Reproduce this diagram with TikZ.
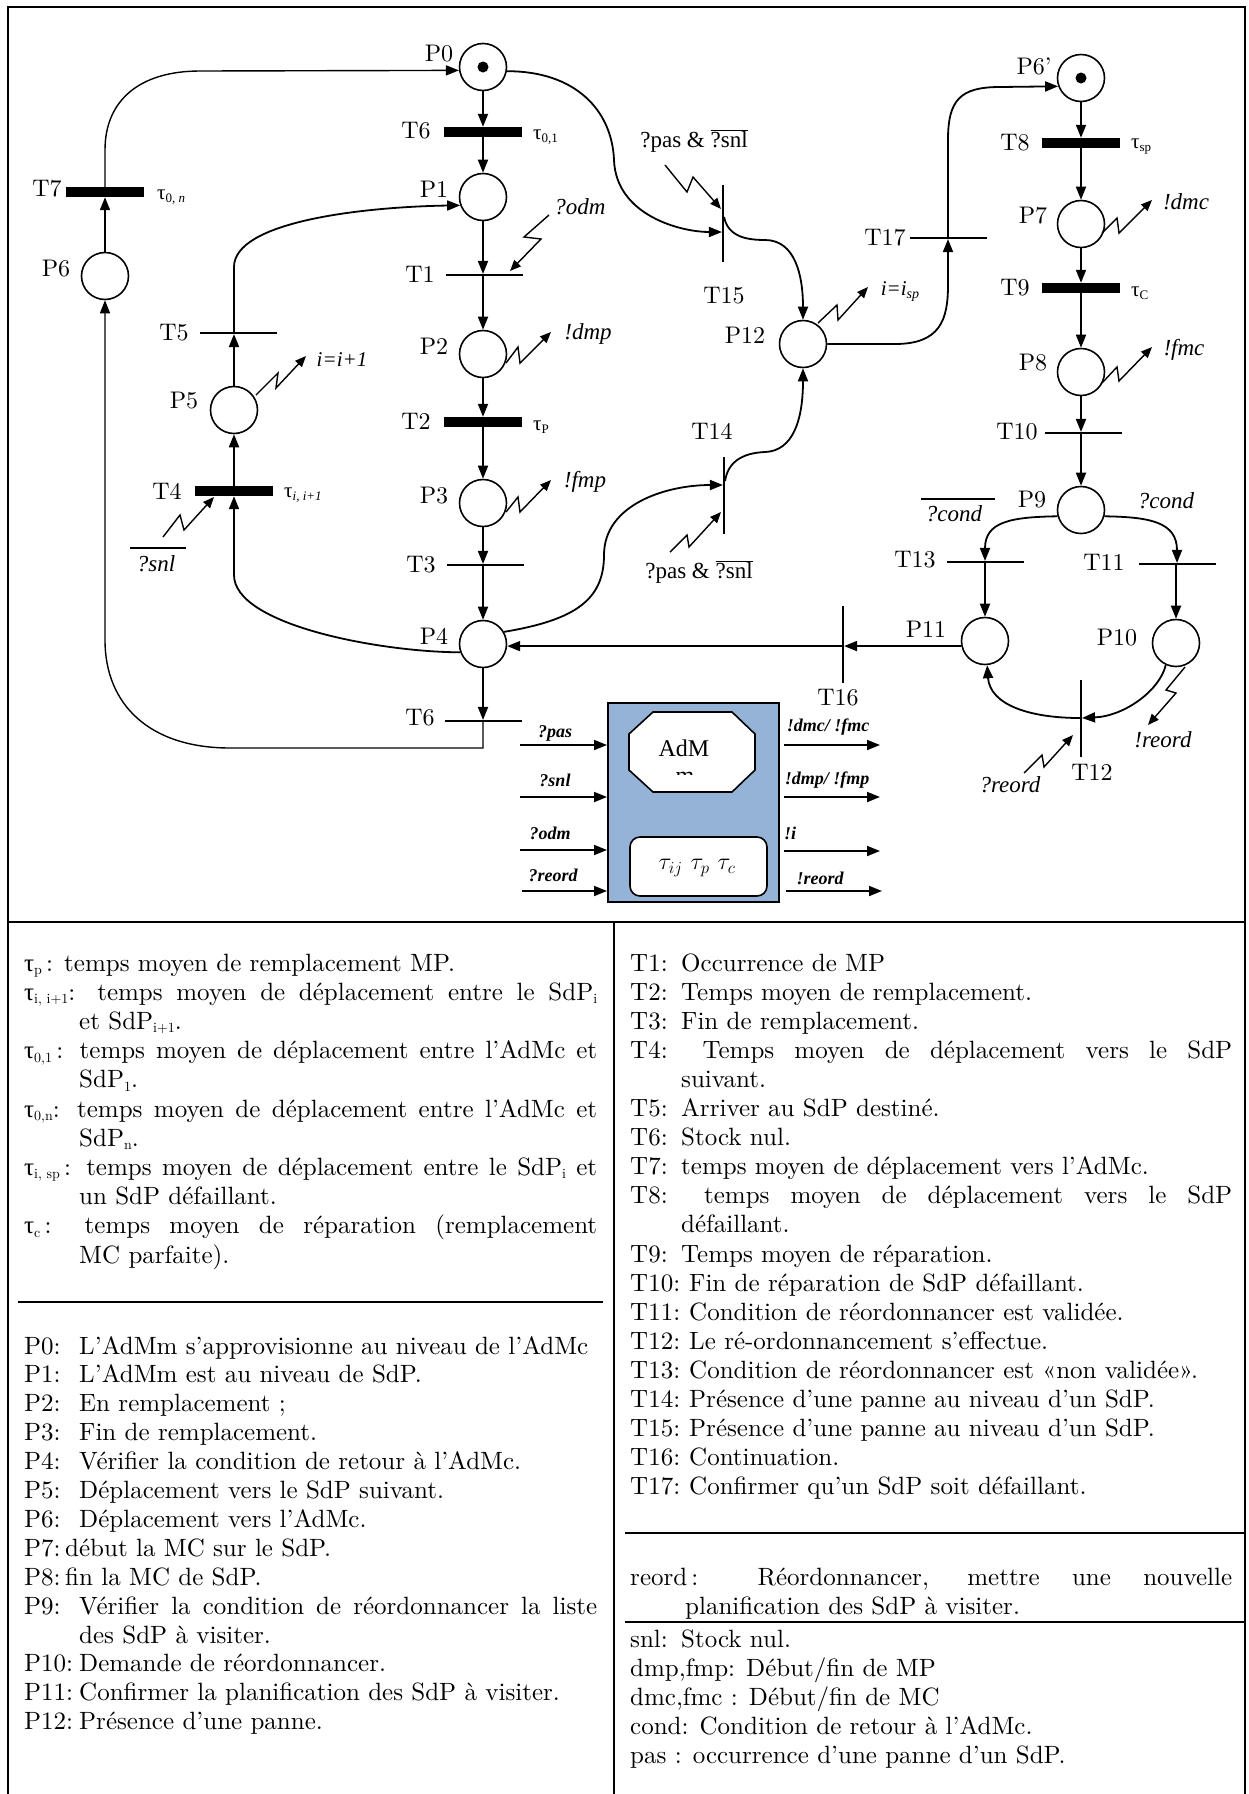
\documentclass[tikz,border=0pt]{standalone}
\usepackage{fix-cm}
\usepackage{fontspec}
\setmainfont{lmroman10-regular.otf}[BoldFont=lmroman10-bold.otf,ItalicFont=lmroman10-italic.otf,BoldItalicFont=lmroman10-bolditalic.otf]
\newfontfamily\tnr{Liberation Serif}
\usetikzlibrary{arrows.meta,calc}
\definecolor{admblue}{RGB}{149,179,215}
\newcommand\sbx[1]{\raisebox{-3.5pt}{\fontsize{14}{16}\selectfont #1}}
\newcommand\tleg[1]{{\tnr τ}\sbx{#1}}
\newcommand\tlab[1]{{\tnr\fontsize{21}{24}\selectfont τ}\raisebox{-3pt}{\tnr\fontsize{13}{15}\selectfont #1}}
\newcommand\lab[2]{\makebox[#1][l]{#2}}
\newcommand\jst[2]{\makebox[#1][s]{#2}}
\begin{document}
\begin{tikzpicture}[x=1pt,y=-1pt,
 plc/.style={circle,draw,line width=1.6pt,minimum size=47pt,inner sep=0pt},
 tok/.style={plc,path picture={\fill (path picture bounding box.center) circle[radius=5.5pt];}},
 tbar/.style={fill=black,minimum width=78pt,minimum height=10pt,inner sep=0pt},
 thh/.style={fill=black,minimum width=77pt,minimum height=1.7pt,inner sep=0pt},
 thv/.style={fill=black,minimum width=1.7pt,minimum height=77pt,inner sep=0pt},
 pnarc/.style={line width=1.8pt,-{Triangle[length=13pt,width=10pt]}},
 bolt/.style={line width=1.4pt,-{Triangle[length=11pt,width=9pt]}},
 lbl/.style={inner sep=0pt,font=\fontsize{24}{28}\selectfont},
 ilbl/.style={inner sep=0pt,font=\tnr\itshape\fontsize{23}{27}\selectfont},
 bil/.style={inner sep=0pt,font=\tnr\bfseries\itshape\fontsize{18}{21}\selectfont},
 leg/.style={anchor=base west,inner sep=0pt,font=\fontsize{25}{29}\selectfont},
 frm/.style={line width=2.4pt},
 sep/.style={line width=2pt},
]
\useasboundingbox (0,0) rectangle (1248,1794);
\fill[white] (0,0) rectangle (1248,1794);

% ---------- frame ----------
\draw[frm] (8,1800) -- (8,7) -- (1245,7) -- (1245,1800);
\draw[frm] (8,922) -- (1245,922);
\draw[sep] (614,922) -- (614,1800);
\draw[sep] (18,1302) -- (603,1302);
\draw[sep] (625,1533) -- (1245,1533);
\draw[sep] (625,1622) -- (1245,1622);

% ---------- places ----------
\node[tok] (P0)  at (483,67) {};
\node[plc] (P1)  at (483,197) {};
\node[plc] (P2)  at (483,354) {};
\node[plc] (P3)  at (483,503) {};
\node[plc] (P4)  at (483,644) {};
\node[plc] (P5)  at (234,410) {};
\node[plc] (P6)  at (105,276) {};
\node[plc] (P12) at (803,344) {};
\node[tok] (P6p) at (1081,78) {};
\node[plc] (P7)  at (1081,224) {};
\node[plc] (P8)  at (1081,372) {};
\node[plc] (P9)  at (1081,510) {};
\node[plc] (P10) at (1176,643) {};
\node[plc] (P11) at (985,641) {};

% ---------- transitions ----------
\node[tbar] (T6a) at (483,132) {};
\node[tbar] (T7)  at (105,192) {};
\node[tbar] (T2)  at (483,422) {};
\node[tbar] (T4)  at (234,491) {};
\node[tbar] (T8)  at (1081,143) {};
\node[tbar] (T9)  at (1081,288) {};
\node[thh] (T1)  at (484,275) {};
\node[thh] (T3)  at (485,565) {};
\node[thh] (T5)  at (238,333) {};
\node[thh] (T6b) at (483,721) {};
\node[thh] (T17) at (948,238) {};
\node[thh] (T10) at (1083,433) {};
\node[thh] (T13) at (985,562) {};
\node[thh] (T11) at (1177,564) {};
\node[thv] (T15) at (723,223) {};
\node[thv] (T14) at (724,495) {};
\node[thv] (T16) at (843,644) {};
\node[thv] (T12) at (1081,718) {};

% ---------- straight arcs ----------
\draw[pnarc] (P0) -- (P0 |- T6a.north);
\draw[pnarc] (P0 |- T6a.south) -- (P1);
\draw[pnarc] (P1) -- (P1 |- T1.north);
\draw[pnarc] (P1 |- T1.south) -- (P2);
\draw[pnarc] (P2) -- (P2 |- T2.north);
\draw[pnarc] (P2 |- T2.south) -- (P3);
\draw[pnarc] (P3) -- (P3 |- T3.north);
\draw[pnarc] (P3 |- T3.south) -- (P4);
\draw[pnarc] (P4) -- (P4 |- T6b.north);
\draw[pnarc] (P6) -- (P6 |- T7.south);
\draw[pnarc] (P5) -- (P5 |- T5.south);
\draw[pnarc] (P5 |- T4.north) -- (P5);
\draw[pnarc] (P6p) -- (P6p |- T8.north);
\draw[pnarc] (P6p |- T8.south) -- (P7);
\draw[pnarc] (P7) -- (P7 |- T9.north);
\draw[pnarc] (P7 |- T9.south) -- (P8);
\draw[pnarc] (P8) -- (P8 |- T10.north);
\draw[pnarc] (P8 |- T10.south) -- (P9);
\draw[pnarc] (P11 |- T13.south) -- (P11);
\draw[pnarc] (P10 |- T11.south) -- (P10);
\draw[pnarc] (P11.192) -- (P11.192 -| T16.east);
\draw[pnarc] (T16.west |- P4.-5) -- (P4.-5);

% ---------- curved arcs ----------
\draw[pnarc,line width=1.4pt] (T6b.south) -- (483,748) -- (230,748) .. controls (150,748) and (105,705) .. (105,640) -- (P6);
\draw[pnarc,line width=1.4pt] (T7.north) -- (105,150) .. controls (105,100) and (140,71) .. (200,71) -- (P0.188);
\draw[pnarc] (P5 |- T5.north) -- (234,267) .. controls (234,222) and (360,207) .. (P1.200);
\draw[pnarc] (P4.200) .. controls (380,652) and (234,625) .. (234,575) -- (P5 |- T4.south);
\draw[pnarc] (P4.30) .. controls (575,620) and (604,600) .. (604,555) .. controls (604,505) and (665,485) .. ([yshift=10pt]T14.west);
\draw[pnarc] ([yshift=14pt]T14.east) .. controls (728,462) and (742,453) .. (765,452) .. controls (793,451) and (803,420) .. (P12.south);
\draw[pnarc] (P0.-10) .. controls (575,71) and (612,110) .. (614,160) .. controls (616,215) and (680,232) .. ([yshift=-9pt]T15.west);
\draw[pnarc] ([yshift=6pt]T15.east) .. controls (728,236) and (745,240) .. (765,240) .. controls (795,240) and (803,275) .. (P12.north);
\draw[pnarc] (P12.east) -- (895,344) .. controls (940,344) and (948,320) .. (948,285) -- (T17.south);
\draw[pnarc] (T17.north) -- (948,140) .. controls (948,100) and (960,87) .. (1000,87) -- (P6p.200);
\draw[pnarc] (P9.195) .. controls (1010,517) and (985,522) .. (T13.north);
\draw[pnarc] (P9.-15) .. controls (1150,517) and (1177,522) .. (T11.north);
\draw[pnarc] (P10.245) .. controls (1160,690) and (1125,716) .. (T12.east);
\draw[pnarc] (T12.west) .. controls (1030,718) and (990,705) .. (P11.-85);

% ---------- signal bolts ----------
\draw[bolt] (549,215) -- (524,237) -- (541,239) -- (510,271);
\draw[bolt] (506,363) -- (518,347) -- (520,363) -- (551,332);
\draw[bolt] (506,512) -- (518,497) -- (520,512) -- (551,480);
\draw[bolt] (256,395) -- (278,373) -- (276,388) -- (306,356);
\draw[bolt] (163,537) -- (180,515) -- (184,530) -- (214,497);
\draw[bolt] (665,165) -- (687,192) -- (693,177) -- (721,209);
\draw[bolt] (670,552) -- (687,535) -- (689,547) -- (721,512);
\draw[bolt] (818,323) -- (837,305) -- (838,320) -- (868,287);
\draw[bolt] (1102,233) -- (1117,218) -- (1119,233) -- (1152,200);
\draw[bolt] (1102,383) -- (1117,367) -- (1119,381) -- (1152,347);
\draw[bolt] (1024,773) -- (1042,755) -- (1044,767) -- (1073,735);
\draw[bolt] (1185,667) -- (1166,690) -- (1176,693) -- (1148,725);

% ---------- place / transition labels ----------
\node[lbl] (lP0) at (439,54) {P0};
\node[lbl] (lP1) at (434,189) {P1};
\node[lbl] (lP2) at (434,346) {P2};
\node[lbl] (lP3) at (434,496) {P3};
\node[lbl] (lP4) at (434,636) {P4};
\node[lbl] (lP5) at (184,401) {P5};
\node[lbl] (lP6) at (56,269) {P6};
\node[lbl] (lP12) at (745,335) {P12};
\node[lbl] (lP6p) at (1034,66) {P6’};
\node[lbl] (lP7) at (1033,216) {P7};
\node[lbl] (lP8) at (1033,363) {P8};
\node[lbl] (lP9) at (1032,500) {P9};
\node[lbl] (lP10) at (1117,638) {P10};
\node[lbl] (lP11) at (926,629) {P11};
\node[lbl] (lT6a) at (416,131) {T6};
\node[lbl] (lT7) at (47,189) {T7};
\node[lbl] (lT1) at (420,274) {T1};
\node[lbl] (lT2) at (416,421) {T2};
\node[lbl] (lT5) at (174,333) {T5};
\node[lbl] (lT4) at (167,491) {T4};
\node[lbl] (lT3) at (421,565) {T3};
\node[lbl] (lT6b) at (420,718) {T6};
\node[lbl] (lT15) at (724,296) {T15};
\node[lbl] (lT14) at (712,431) {T14};
\node[lbl] (lT16) at (838,698) {T16};
\node[lbl] (lT17) at (885,238) {T17};
\node[lbl] (lT8) at (1015,143) {T8};
\node[lbl] (lT9) at (1015,288) {T9};
\node[lbl] (lT10) at (1017,432) {T10};
\node[lbl] (lT13) at (915,560) {T13};
\node[lbl] (lT11) at (1104,562) {T11};
\node[lbl] (lT12) at (1092,772) {T12};

% ---------- timing labels ----------
\node[anchor=west,inner sep=0pt] (t01) at (533,137) {\tlab{0,1}};
\node[anchor=west,inner sep=0pt] (t0n) at (157,197) {\tlab{0, \itshape n}};
\node[anchor=west,inner sep=0pt] (tp) at (533,427) {\tlab{P}};
\node[anchor=west,inner sep=0pt] (tii) at (284,495) {\tlab{\itshape i, i+1}};
\node[anchor=west,inner sep=0pt] (tsp) at (1131,147) {\tlab{sp}};
\node[anchor=west,inner sep=0pt] (tc) at (1131,293) {\tlab{C}};

% ---------- signal labels ----------
\node[ilbl] (sodm) at (580,207) {?odm};
\node[ilbl] (sdmp) at (588,334) {!dmp};
\node[ilbl,font=\tnr\itshape\fontsize{21}{25}\selectfont] (sii) at (342,360) {i=i+1};
\node[ilbl] (sfmp) at (585,482) {!fmp};
\node[ilbl] (ssnl) at (156,564) {?snl};
\draw[line width=1.4pt] (130,548) -- (186,548);
\node[ilbl,font=\tnr\itshape\fontsize{21}{25}\selectfont] (sisp) at (900,292) {i=i\raisebox{-3pt}{\fontsize{14}{16}\selectfont sp}};
\node[ilbl] (sdmc) at (1186,202) {!dmc};
\node[ilbl] (sfmc) at (1184,350) {!fmc};
\node[inner sep=0pt,font=\tnr\fontsize{23}{27}\selectfont] (spas1) at (694,141) {?pas \& $\overline{\hbox{?snl}}$};
\node[inner sep=0pt,font=\tnr\fontsize{23}{27}\selectfont] (spas2) at (699,572) {?pas \& $\overline{\hbox{?snl}}$};
\node[ilbl] (scond1) at (954,514) {?cond};
\draw[line width=1.4pt] (921,499) -- (995,499);
\node[ilbl] (scond2) at (1166,501) {?cond};
\node[ilbl] (sreo1) at (1163,740) {!reord};
\node[ilbl] (sreo2) at (1010,785) {?reord};

% ---------- AdM block ----------
\node[draw,line width=2pt,fill=admblue,minimum width=171pt,minimum height=199pt,inner sep=0pt] (adm) at (693.5,802.5) {};
\draw[line width=1.6pt,fill=white] (653,712) -- (732,712) -- (755,734) -- (755,770) -- (732,792) -- (653,792) -- (629,770) -- (629,734) -- cycle;
\node[inner sep=0pt,font=\tnr\fontsize{24}{28}\selectfont] (admt) at (684,748) {AdM};
\begin{scope}
\clip (655,768) rectangle (715,774.5);
\node[anchor=base,inner sep=0pt,font=\tnr\fontsize{24}{28}\selectfont] (admm) at (685,783) {m};
\end{scope}
\draw[line width=1.6pt,fill=white,rounded corners=10pt] (630,837) rectangle (767,896);
\node[inner sep=0pt,font=\fontsize{24}{28}\selectfont] (taus) at (697,868) {$\tau_{ij}\ \tau_p\ \tau_c$};

\coordinate (i1) at (520,745);
\coordinate (i2) at (520,797);
\coordinate (i3) at (520,850);
\coordinate (i4) at (522,891);
\draw[pnarc] (i1) -- (i1 -| adm.west);
\draw[pnarc] (i2) -- (i2 -| adm.west);
\draw[pnarc] (i3) -- (i3 -| adm.west);
\draw[pnarc] (i4) -- (i4 -| adm.west);
\node[bil] at (555,733) {?pas};
\node[bil] at (555,780) {?snl};
\node[bil] at (550,833) {?odm};
\node[bil] at (553,875) {?reord};
\coordinate (o1) at (880,745);
\coordinate (o2) at (880,797);
\coordinate (o3) at (880,851);
\coordinate (o4) at (882,891);
\draw[pnarc] (adm.east |- o1) ++(4pt,0) -- (o1);
\draw[pnarc] (adm.east |- o2) ++(4pt,0) -- (o2);
\draw[pnarc] (adm.east |- o3) ++(4pt,0) -- (o3);
\draw[pnarc] (adm.east |- o4) ++(6pt,0) -- (o4);
\node[bil] at (828,727) {!dmc/ !fmc};
\node[bil] at (827,780) {!dmp/ !fmp};
\node[bil] at (790,833) {!i};
\node[bil] at (820,878) {!reord};

% ---------- legend: left column ----------
\node[leg] at (24,971) {\tleg{p}\,: temps moyen de remplacement MP.};
\node[leg] at (24,1000.2) {\jst{573pt}{\tleg{i, i+1}: temps moyen de déplacement entre le SdP\sbx{i}}};
\node[leg] at (79,1029.4) {et SdP\sbx{i+1}.};
\node[leg] at (24,1058.6) {\jst{573pt}{\tleg{0,1}\,: temps moyen de déplacement entre l’AdMc et}};
\node[leg] at (79,1087.8) {SdP\sbx{1}.};
\node[leg] at (24,1117) {\jst{573pt}{\tleg{0,n}: temps moyen de déplacement entre l’AdMc et}};
\node[leg] at (79,1146.2) {SdP\sbx{n}.};
\node[leg] at (24,1175.4) {\jst{573pt}{\tleg{i, sp}\,: temps moyen de déplacement entre le SdP\sbx{i} et}};
\node[leg] at (79,1204.6) {un SdP défaillant.};
\node[leg] at (24,1233.8) {\jst{573pt}{\tleg{c}\,: temps moyen de réparation (remplacement}};
\node[leg] at (79,1263) {MC parfaite).};

\node[leg] at (24,1354) {\lab{55pt}{P0:}L’AdMm s’approvisionne au niveau de l’AdMc};
\node[leg] at (24,1382.9) {\lab{55pt}{P1:}L’AdMm est au niveau de SdP.};
\node[leg] at (24,1411.8) {\lab{55pt}{P2:}En remplacement ;};
\node[leg] at (24,1440.7) {\lab{55pt}{P3:}Fin de remplacement.};
\node[leg] at (24,1469.6) {\lab{55pt}{P4:}Vérifier la condition de retour à l’AdMc.};
\node[leg] at (24,1498.5) {\lab{55pt}{P5:}Déplacement vers le SdP suivant.};
\node[leg] at (24,1527.4) {\lab{55pt}{P6:}Déplacement vers l’AdMc.};
\node[leg] at (24,1556.3) {\lab{41pt}{P7:}début la MC sur le SdP.};
\node[leg] at (24,1585.2) {\lab{41pt}{P8:}fin la MC de SdP.};
\node[leg] at (24,1614.1) {\jst{573pt}{P9: Vérifier la condition de réordonnancer la liste}};
\node[leg] at (79,1643) {des SdP à visiter.};
\node[leg] at (24,1671.9) {\lab{55pt}{P10:}Demande de réordonnancer.};
\node[leg] at (24,1700.8) {\lab{55pt}{P11:}Confirmer la planification des SdP à visiter.};
\node[leg] at (24,1729.7) {\lab{55pt}{P12:}Présence d’une panne.};

% ---------- legend: right column ----------
\node[leg] at (630,971) {\lab{51pt}{T1:}Occurrence de MP};
\node[leg] at (630,1000.1) {\lab{51pt}{T2:}Temps moyen de remplacement.};
\node[leg] at (630,1029.2) {\lab{51pt}{T3:}Fin de remplacement.};
\node[leg] at (630,1058.3) {\jst{602pt}{T4: Temps moyen de déplacement vers le SdP}};
\node[leg] at (681,1087.4) {suivant.};
\node[leg] at (630,1116.5) {\lab{51pt}{T5:}Arriver au SdP destiné.};
\node[leg] at (630,1145.6) {\lab{51pt}{T6:}Stock nul.};
\node[leg] at (630,1174.7) {\lab{51pt}{T7:}temps moyen de déplacement vers l’AdMc.};
\node[leg] at (630,1203.8) {\jst{602pt}{T8: temps moyen de déplacement vers le SdP}};
\node[leg] at (681,1232.9) {défaillant.};
\node[leg] at (630,1262) {\lab{51pt}{T9:}Temps moyen de réparation.};
\node[leg] at (630,1291.1) {\lab{59pt}{T10:}Fin de réparation de SdP défaillant.};
\node[leg] at (630,1320.2) {\lab{59pt}{T11:}Condition de réordonnancer est validée.};
\node[leg] at (630,1349.3) {\lab{59pt}{T12:}Le ré-ordonnancement s’effectue.};
\node[leg] at (630,1378.4) {\lab{59pt}{T13:}Condition de réordonnancer est «non validée».};
\node[leg] at (630,1407.5) {\lab{59pt}{T14:}Présence d’une panne au niveau d’un SdP.};
\node[leg] at (630,1436.6) {\lab{59pt}{T15:}Présence d’une panne au niveau d’un SdP.};
\node[leg] at (630,1465.7) {\lab{59pt}{T16:}Continuation.};
\node[leg] at (630,1494.8) {\lab{59pt}{T17:}Confirmer qu’un SdP soit défaillant.};

\node[leg] at (630,1585) {\jst{602pt}{reord\,: Réordonnancer, mettre une nouvelle}};
\node[leg] at (685,1614) {planification des SdP à visiter.};
\node[leg] at (630,1647) {\lab{51pt}{snl:}Stock nul.};
\node[leg] at (630,1676) {dmp,fmp: Début/fin de MP};
\node[leg] at (630,1705) {dmc,fmc : Début/fin de MC};
\node[leg] at (630,1734) {cond: Condition de retour à l’AdMc.};
\node[leg] at (630,1763) {pas : occurrence d’une panne d’un SdP.};
\end{tikzpicture}
\end{document}
